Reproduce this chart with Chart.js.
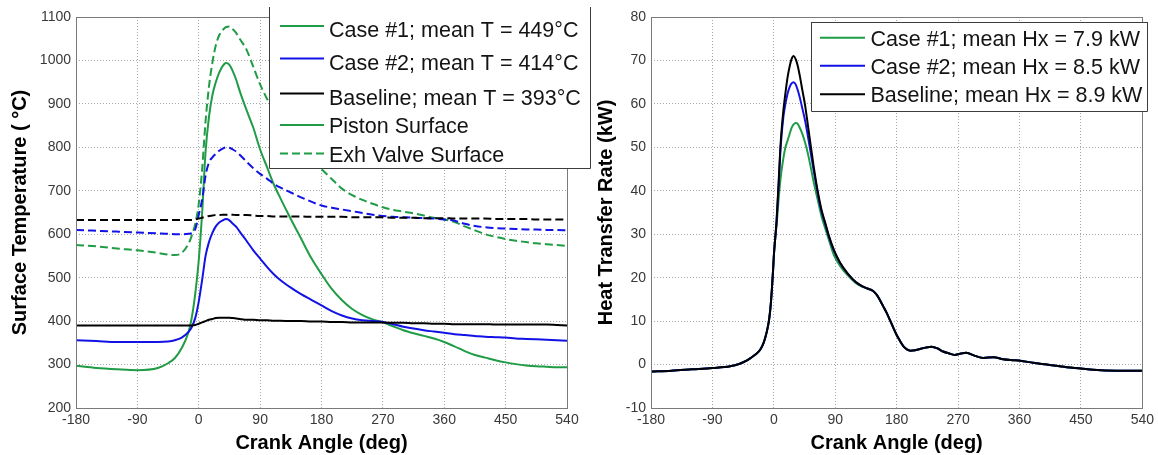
<!DOCTYPE html>
<html><head><meta charset="utf-8">
<script src="https://cdn.jsdelivr.net/npm/chart.js@4.4.0/dist/chart.umd.min.js"></script>
<style>
html,body{margin:0;padding:0;background:#fff;width:1158px;height:455px;overflow:hidden;}
#c1{position:absolute;left:0;top:0;}
#c2{position:absolute;left:580px;top:0;}
</style></head><body>
<canvas id="c1" width="600" height="455"></canvas>
<canvas id="c2" width="578" height="455"></canvas>
<script>
// ---------- Left panel: surface temperature (deg C) vs crank angle ----------
const angleL = [-180,-150,-120,-90,-60,-45,-35,-25,-15,-10,-5,0,5,10,15,20,25,30,35,40,45,50,55,60,70,80,90,100,110,120,135,150,165,180,195,210,225,240,255,270,285,300,315,330,345,360,375,390,405,420,435,450,465,480,495,510,525,540];
const case1Piston = [297,292,289,287,292,303,315,338,375,410,465,540,650,790,870,920,950,972,987,994,990,975,955,930,886,845,795,755,715,682,635,590,545,508,474,448,428,414,404,397,388,379,372,366,360,352,342,331,322,316,310,305,301,298,296,295,294,294];
const case2Piston = [356,354,352,352,352,353,356,362,375,387,408,445,495,550,582,603,618,627,632,635,632,624,617,606,585,563,544,525,508,494,477,462,449,436,423,413,406,402,400,398,393,387,383,379,376,373,370,368,366,364,363,362,360,359,358,357,356,355];
const basePiston = [390,390,390,390,390,390,390,390,390,390,391,394,397,400,403,405,407,408,408,408,408,407,406,405,403,403,402,402,401,401,400,400,399,399,398,398,397,397,397,397,396,396,395,395,394,394,393,393,393,393,392,392,392,392,392,392,391,390];
const case1Valve = [575,572,567,563,557,553,552,557,578,598,625,670,750,860,940,995,1035,1058,1070,1077,1078,1072,1063,1050,1025,985,945,912,885,860,825,797,772,750,727,705,690,679,670,662,656,652,648,643,638,634,628,618,609,600,594,589,585,582,579,577,575,573];
const case2Valve = [610,608,606,604,602,601,600,600,601,603,612,645,680,735,765,777,785,792,797,800,799,795,790,783,767,752,739,728,716,707,696,685,675,666,661,657,653,649,645,642,640,639,638,637,636,634,631,624,619,616,614,613,612,611,611,610,610,609];
const baseValve = [633,633,633,633,633,633,633,633,633,633,634,636,638,640,642,643,644,644,645,645,645,645,644,644,644,643,642,642,641,641,641,641,640,640,640,640,639,639,639,639,638,638,638,637,637,637,636,636,636,636,635,635,635,635,634,634,634,634];
const legendL = ['Case #1; mean T = 449°C','Case #2; mean T = 414°C','Baseline; mean T = 393°C','Piston Surface','Exh Valve Surface'];

// ---------- Right panel: heat transfer rate (kW) vs crank angle ----------
const angleR = [-180,-150,-120,-90,-64,-50,-40,-34,-27,-20,-15,-12,-9,-7,-5,-3,-1,0,2,4,7,10,14,17,20,23,26,29,32,35,38,42,46,50,54,58,62,66,70,75,80,88,97,108,120,130,137,145,150,155,160,165,170,175,180,185,190,195,200,207,214,222,231,240,248,256,265,273,282,295,307,322,336,350,361,380,400,429,450,468,502,540];
const baseHx = [-1.6,-1.4,-1.1,-0.8,-0.4,0.2,0.9,1.5,2.3,3.4,5,6.5,8.5,10.3,13,17,22,25,29,33,42,51,58.5,62.5,66,68.5,70.3,71,70.3,68.8,66.5,63,59.5,55,50.5,46,42,38.5,35.5,32.8,30,26.4,23.5,21,19,18,17.5,17,16.2,15,13.5,12,10.3,8.5,6.8,5.4,4.2,3.5,3.2,3.3,3.6,3.9,4.1,3.7,3.0,2.6,2.2,2.5,2.7,2.0,1.5,1.7,1.2,1.0,0.9,0.4,0,-0.6,-0.9,-1.2,-1.4,-1.4];
const case2Hx = [-1.6,-1.4,-1.1,-0.8,-0.4,0.2,0.9,1.5,2.3,3.4,5,6.5,8.5,10.3,13,17,22,25,29,33,41,50,57,60,62.3,63.8,64.7,65,64.5,63.2,61.5,58.8,56,52.5,48.8,45,41.5,38,35.2,32.5,29.8,26.2,23.4,21,19,18,17.5,17,16.2,15,13.5,12,10.3,8.5,6.8,5.4,4.2,3.5,3.2,3.3,3.6,3.9,4.1,3.7,3.0,2.6,2.2,2.5,2.7,2.0,1.5,1.7,1.2,1.0,0.9,0.4,0,-0.6,-0.9,-1.2,-1.4,-1.4];
const case1Hx = [-1.6,-1.4,-1.1,-0.8,-0.4,0.2,0.9,1.5,2.3,3.4,5,6.5,8.5,10.3,13,17,22,25,29,32,38,43,47.5,50,51.5,53,54.5,55.3,55.6,55.4,54.5,53,51,48.5,45.5,42.3,39.5,36.8,34,31.5,29,25.2,22.7,20.6,18.8,17.9,17.5,17,16.2,15,13.5,12,10.3,8.5,6.8,5.4,4.2,3.5,3.2,3.3,3.6,3.9,4.1,3.7,3.0,2.6,2.2,2.5,2.7,2.0,1.5,1.7,1.2,1.0,0.9,0.4,0,-0.6,-0.9,-1.2,-1.4,-1.4];
const legendR = ['Case #1; mean Hx = 7.9 kW','Case #2; mean Hx = 8.5 kW','Baseline; mean Hx = 8.9 kW'];

const xTicks = [-180,-90,0,90,180,270,360,450,540];

// ---------- styling ----------
const FONT = '"Liberation Sans", Arial, Helvetica, sans-serif';
Chart.defaults.font.family = FONT;
const GREEN = '#1f9c45', BLUE = '#1212e6', BLACK = '#000000';
const DASH = [8,4];
const GRID = '#a6a6a6';
const TICK = '#383838';

function pts(xs, ys){ return xs.map((x,i)=>({x:x, y:ys[i]})); }
function ds(label, xs, ys, color, dash, order){
  return {label, data: pts(xs,ys), borderColor: color, backgroundColor: color, borderWidth: 2,
    borderDash: dash || [], pointRadius: 0, fill: false, cubicInterpolationMode: 'monotone', order: order};
}

const boxPlugin = {
  id: 'matlabBox',
  afterDatasetsDraw(chart){
    const {ctx, chartArea: a} = chart;
    ctx.save(); ctx.strokeStyle = '#7a7a7a'; ctx.lineWidth = 1;
    ctx.strokeRect(Math.round(a.left)+0.5, Math.round(a.top)+0.5, Math.round(a.right-a.left), Math.round(a.bottom-a.top));
    ctx.restore();
  }
};

function legendPlugin(cfg){
  return {
    id: 'boxLegend',
    afterDraw(chart){
      const ctx = chart.ctx; const b = cfg.box;
      ctx.save();
      ctx.fillStyle = '#fff';
      ctx.fillRect(b[0], b[1], b[2]-b[0], b[3]-b[1]);
      ctx.strokeStyle = '#3c3c3c'; ctx.lineWidth = 1;
      ctx.beginPath();
      if (cfg.top) { ctx.moveTo(b[0]+0.5, b[1]+0.5); ctx.lineTo(b[2]+0.5, b[1]+0.5); }
      ctx.moveTo(b[0]+0.5, b[1]); ctx.lineTo(b[0]+0.5, b[3]+0.5);
      ctx.lineTo(b[2]+0.5, b[3]+0.5); ctx.lineTo(b[2]+0.5, b[1]);
      ctx.stroke();
      ctx.font = cfg.fontSize + 'px ' + FONT;
      ctx.textBaseline = 'alphabetic'; ctx.textAlign = 'left';
      cfg.items.forEach(it => {
        ctx.strokeStyle = it.color; ctx.lineWidth = 2; ctx.setLineDash(it.dash || []);
        ctx.beginPath(); ctx.moveTo(cfg.lx0, it.ly); ctx.lineTo(cfg.lx1, it.ly); ctx.stroke();
        ctx.setLineDash([]);
        ctx.fillStyle = '#141414';
        ctx.fillText(it.text, cfg.tx, it.ty);
      });
      ctx.restore();
    }
  };
}

function axes(yMin, yMax, yStep, yTitle, yTitlePad, yWidth){
  return {
    x: {type: 'linear', min: -180, max: 540,
      afterBuildTicks(s){ s.ticks = xTicks.map(v=>({value:v})); },
      afterFit(s){ s.height = 47; },
      ticks: {font: {size: 14}, color: TICK, padding: 4, maxRotation: 0, autoSkip: false, callback: v => String(v)},
      grid: {color: GRID, drawTicks: false, lineWidth: 1},
      border: {display: false, dash: [1,2]},
      title: {display: true, text: 'Crank Angle (deg)', font: {size: 20, weight: 'bold'}, color: '#000', padding: {top: 0, bottom: 0}}
    },
    y: {type: 'linear', min: yMin, max: yMax,
      afterFit(s){ s.width = yWidth; },
      ticks: {stepSize: yStep, font: {size: 14}, color: TICK, padding: 5, callback: v => String(v)},
      grid: {color: GRID, drawTicks: false, lineWidth: 1},
      border: {display: false, dash: [1,2]},
      title: {display: true, text: yTitle, font: {size: 20, weight: 'bold'}, color: '#000', padding: {top: yTitlePad, bottom: 0}}
    }
  };
}

new Chart(document.getElementById('c1'), {
  type: 'line',
  data: {datasets: [
    ds('Case #1 Piston', angleL, case1Piston, GREEN, null, 4),
    ds('Case #2 Piston', angleL, case2Piston, BLUE, null, 3),
    ds('Baseline Piston', angleL, basePiston, BLACK, null, 2),
    ds('Case #1 Exh Valve', angleL, case1Valve, GREEN, DASH, 5),
    ds('Case #2 Exh Valve', angleL, case2Valve, BLUE, DASH, 1),
    ds('Baseline Exh Valve', angleL, baseValve, BLACK, DASH, 0)
  ]},
  options: {
    responsive: false, animation: false,
    layout: {padding: {left: 0, top: 17, right: 33, bottom: 0}},
    plugins: {legend: {display: false}, tooltip: {enabled: false}},
    scales: axes(200, 1100, 100, 'Surface Temperature ( °C)', 8, 76)
  },
  plugins: [boxPlugin, legendPlugin({
    box: [269, 7, 590, 168], top: false, fontSize: 21.5, lx0: 280, lx1: 324, tx: 329,
    items: [
      {text: legendL[0], color: GREEN, ly: 26, ty: 36.7},
      {text: legendL[1], color: BLUE, ly: 58.5, ty: 70},
      {text: legendL[2], color: BLACK, ly: 93.5, ty: 105},
      {text: legendL[3], color: GREEN, ly: 125, ty: 133.3},
      {text: legendL[4], color: GREEN, dash: DASH, ly: 153.5, ty: 161.7}
    ]})]
});

new Chart(document.getElementById('c2'), {
  type: 'line',
  data: {datasets: [
    ds('Case #1', angleR, case1Hx, GREEN, null, 2),
    ds('Case #2', angleR, case2Hx, BLUE, null, 1),
    ds('Baseline', angleR, baseHx, BLACK, null, 0)
  ]},
  options: {
    responsive: false, animation: false,
    layout: {padding: {left: 0, top: 17, right: 14, bottom: 0}},
    plugins: {legend: {display: false}, tooltip: {enabled: false}},
    scales: axes(-10, 80, 10, 'Heat Transfer Rate (kW)', 14, 71)
  },
  plugins: [boxPlugin, legendPlugin({
    box: [231, 22, 567, 111], top: true, fontSize: 21.5, lx0: 240, lx1: 285, tx: 290.5,
    items: [
      {text: legendR[0], color: GREEN, ly: 37.7, ty: 45.7},
      {text: legendR[1], color: BLUE, ly: 65.7, ty: 74},
      {text: legendR[2], color: BLACK, ly: 94.3, ty: 102.3}
    ]})]
});
</script>
</body></html>
